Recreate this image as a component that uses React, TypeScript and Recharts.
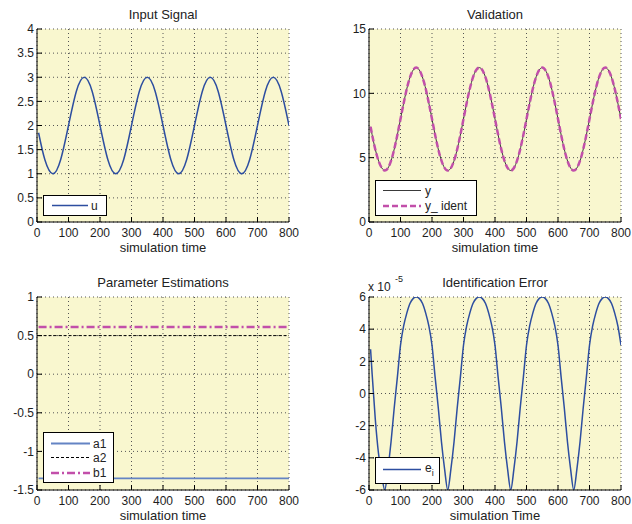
import React from 'react';
import { LineChart, Line, XAxis, YAxis, CartesianGrid } from 'recharts';

const FONT = "'Liberation Sans', Arial, Helvetica, sans-serif";
const BG = '#F9F7CF';
const BLUE = '#2D4EA0';
const LIGHT_BLUE = '#6484C4';
const MAGENTA = '#C24FAA';
const DARK = '#3a3a3a';

const X_TICKS = [0, 100, 200, 300, 400, 500, 600, 700, 800];
const U_TICKS = [0, 0.5, 1, 1.5, 2, 2.5, 3, 3.5, 4];
const VAL_TICKS = [0, 5, 10, 15];
const PARAM_TICKS = [-1.5, -1, -0.5, 0, 0.5, 1];
const ERR_TICKS = [-6, -4, -2, 0, 2, 4, 6];

const U_TIME = [5, 25, 50, 75, 100, 125, 150, 175, 200, 225, 250, 275, 300, 325, 350, 375, 400, 425, 450, 475, 500, 525, 550, 575, 600, 625, 650, 675, 700, 725, 750, 775, 800];
const U_VALUES = [1.85, 1.29, 1.0, 1.29, 2.0, 2.71, 3.0, 2.71, 2.0, 1.29, 1.0, 1.29, 2.0, 2.71, 3.0, 2.71, 2.0, 1.29, 1.0, 1.29, 2.0, 2.71, 3.0, 2.71, 2.0, 1.29, 1.0, 1.29, 2.0, 2.71, 3.0, 2.71, 2.0];
const Y_VALUES = [7.4, 5.17, 4.0, 5.17, 8.0, 10.83, 12.0, 10.83, 8.0, 5.17, 4.0, 5.17, 8.0, 10.83, 12.0, 10.83, 8.0, 5.17, 4.0, 5.17, 8.0, 10.83, 12.0, 10.83, 8.0, 5.17, 4.0, 5.17, 8.0, 10.83, 12.0, 10.83, 8.0];
const Y_IDENT_VALUES = [7.4, 5.17, 4.0, 5.17, 8.0, 10.83, 12.0, 10.83, 8.0, 5.17, 4.0, 5.17, 8.0, 10.83, 12.0, 10.83, 8.0, 5.17, 4.0, 5.17, 8.0, 10.83, 12.0, 10.83, 8.0, 5.17, 4.0, 5.17, 8.0, 10.83, 12.0, 10.83, 8.0];

const PARAM_TIME = [5, 800];
const A1_VALUES = [-1.35, -1.35];
const A2_VALUES = [0.5, 0.5];
const B1_VALUES = [0.61, 0.61];

const E_TIME = [5, 10, 20, 30, 40, 50, 60, 70, 80, 90, 100, 110, 120, 130, 140, 150, 160, 170, 180, 190, 200, 210, 220, 230, 240, 250, 260, 270, 280, 290, 300, 310, 320, 330, 340, 350, 360, 370, 380, 390, 400, 410, 420, 430, 440, 450, 460, 470, 480, 490, 500, 510, 520, 530, 540, 550, 560, 570, 580, 590, 600, 610, 620, 630, 640, 650, 660, 670, 680, 690, 700, 710, 720, 730, 740, 750, 760, 770, 780, 790, 800];
// identification error, in units of 1e-5
const E_VALUES = [2.75, 1.2, -1.6, -3.7, -5.0, -6.0, -4.7, -3.0, -0.9, 1.0, 3.0, 4.2, 5.0, 5.6, 5.9, 6.0, 5.9, 5.6, 5.0, 4.2, 3.0, 1.0, -0.9, -3.0, -4.7, -6.0, -4.7, -3.0, -0.9, 1.0, 3.0, 4.2, 5.0, 5.6, 5.9, 6.0, 5.9, 5.6, 5.0, 4.2, 3.0, 1.0, -0.9, -3.0, -4.7, -6.0, -4.7, -3.0, -0.9, 1.0, 3.0, 4.2, 5.0, 5.6, 5.9, 6.0, 5.9, 5.6, 5.0, 4.2, 3.0, 1.0, -0.9, -3.0, -4.7, -6.0, -4.7, -3.0, -0.9, 1.0, 3.0, 4.2, 5.0, 5.6, 5.9, 6.0, 5.9, 5.6, 5.0, 4.2, 3.0];

const inputData = U_TIME.map((t, i) => ({ t, u: U_VALUES[i] }));
const validationData = U_TIME.map((t, i) => ({ t, y: Y_VALUES[i], yi: Y_IDENT_VALUES[i] }));
const paramData = PARAM_TIME.map((t, i) => ({ t, a1: A1_VALUES[i], a2: A2_VALUES[i], b1: B1_VALUES[i] }));
const errorData = E_TIME.map((t, i) => ({ t, e: E_VALUES[i] }));

const tickStyle = { fill: '#1e1e1e', fontSize: 12, fontFamily: FONT };

type PanelProps = {
  ox: number;
  oy: number;
  yw: number;
  mr: number;
  mt: number;
  mb: number;
  data: any[];
  yDomain: [number, number];
  yTicks: number[];
  children: React.ReactNode;
};

function Panel({ ox, oy, yw, mr, mt, mb, data, yDomain, yTicks, children }: PanelProps) {
  return (
    <div style={{ position: 'absolute', left: ox, top: oy, width: 316, height: 262 }}>
      <LineChart width={316} height={262} data={data} margin={{ top: mt, right: mr, bottom: mb, left: 0 }}>
        <CartesianGrid stroke="#555" strokeDasharray="1 3" fill={BG} fillOpacity={1} />
        <XAxis
          dataKey="t"
          type="number"
          domain={[0, 800]}
          ticks={X_TICKS}
          interval={0}
          height={20}
          tickSize={-5}
          tickMargin={11}
          stroke="#000"
          tick={tickStyle}
          allowDataOverflow
        />
        <XAxis
          xAxisId="top"
          orientation="top"
          dataKey="t"
          type="number"
          domain={[0, 800]}
          ticks={X_TICKS}
          interval={0}
          height={0}
          tickSize={-5}
          tick={false}
          stroke="#000"
          allowDataOverflow
        />
        <YAxis
          type="number"
          domain={yDomain}
          ticks={yTicks}
          interval={0}
          width={yw}
          tickSize={-5}
          tickMargin={8}
          stroke="#000"
          tick={tickStyle}
          allowDataOverflow
        />
        <YAxis
          yAxisId="right"
          orientation="right"
          type="number"
          domain={yDomain}
          ticks={yTicks}
          interval={0}
          width={0}
          tickSize={-5}
          tick={false}
          stroke="#000"
          allowDataOverflow
        />
        {children}
      </LineChart>
    </div>
  );
}

const textStyle: React.CSSProperties = { fontFamily: FONT };

export default function App() {
  return (
    <div style={{ position: 'absolute', left: 0, top: 0, width: 632, height: 524, background: '#fff' }}>
      <Panel ox={0} oy={0} yw={37} mr={27} mt={29} mb={20} data={inputData} yDomain={[0, 4]} yTicks={U_TICKS}>
        <Line type="natural" dataKey="u" stroke={BLUE} strokeWidth={1.5} dot={false} isAnimationActive={false} />
      </Panel>
      <Panel ox={316} oy={0} yw={53} mr={11} mt={29} mb={20} data={validationData} yDomain={[0, 15]} yTicks={VAL_TICKS}>
        <Line type="natural" dataKey="y" stroke={DARK} strokeWidth={1} dot={false} isAnimationActive={false} />
        <Line type="natural" dataKey="yi" stroke={MAGENTA} strokeWidth={2.5} strokeDasharray="6 3" dot={false} isAnimationActive={false} />
      </Panel>
      <Panel ox={0} oy={262} yw={37} mr={27} mt={35} mb={14} data={paramData} yDomain={[-1.5, 1]} yTicks={PARAM_TICKS}>
        <Line type="linear" dataKey="a1" stroke={LIGHT_BLUE} strokeWidth={1.8} dot={false} isAnimationActive={false} />
        <Line type="linear" dataKey="a2" stroke="#000" strokeWidth={1} strokeDasharray="3 2" dot={false} isAnimationActive={false} />
        <Line type="linear" dataKey="b1" stroke={MAGENTA} strokeWidth={2.5} strokeDasharray="8 3 2 3" dot={false} isAnimationActive={false} />
      </Panel>
      <Panel ox={316} oy={262} yw={53} mr={11} mt={35} mb={14} data={errorData} yDomain={[-6, 6]} yTicks={ERR_TICKS}>
        <Line type="monotone" dataKey="e" stroke={BLUE} strokeWidth={1.5} dot={false} isAnimationActive={false} />
      </Panel>

      <svg width={632} height={524} style={{ position: 'absolute', left: 0, top: 0, pointerEvents: 'none' }}>
        <g style={textStyle} fill="#222" fontSize={13} textAnchor="middle">
          <text x={163} y={19}>Input Signal</text>
          <text x={495} y={19}>Validation</text>
          <text x={163} y={287}>Parameter Estimations</text>
          <text x={495} y={287}>Identification Error</text>
          <text x={163} y={252}>simulation time</text>
          <text x={495} y={252}>simulation time</text>
          <text x={163} y={520}>simulation time</text>
          <text x={495} y={520}>simulation Time</text>
        </g>
        <g style={textStyle} fill="#222">
          <text x={368} y={291} fontSize={12}>x 10</text>
          <text x={395} y={282} fontSize={9}>-5</text>
        </g>

        {/* Legend: Input Signal */}
        <rect x={43.5} y={195.5} width={63} height={20} fill="#fff" stroke="#000" strokeWidth={1} />
        <line x1={52} y1={205.5} x2={88} y2={205.5} stroke={BLUE} strokeWidth={1.5} />
        <text x={91} y={210} fontSize={12} fill="#222" style={textStyle}>u</text>

        {/* Legend: Validation */}
        <rect x={375.5} y={180.5} width={101} height={35} fill="#fff" stroke="#000" strokeWidth={1} />
        <line x1={383} y1={190.5} x2={421} y2={190.5} stroke={DARK} strokeWidth={1} />
        <text x={425} y={195} fontSize={12} fill="#222" style={textStyle}>y</text>
        <line x1={383} y1={206} x2={421} y2={206} stroke={MAGENTA} strokeWidth={2.5} strokeDasharray="6 3" />
        <text x={425} y={210} fontSize={12} fill="#222" style={textStyle}>y_ ident</text>

        {/* Legend: Parameter Estimations */}
        <rect x={43.5} y={432.5} width={70} height={50} fill="#fff" stroke="#000" strokeWidth={1} />
        <line x1={51} y1={443.5} x2={90} y2={443.5} stroke={LIGHT_BLUE} strokeWidth={1.8} />
        <text x={93} y={448} fontSize={12} fill="#222" style={textStyle}>a1</text>
        <line x1={51} y1={457.5} x2={90} y2={457.5} stroke="#000" strokeWidth={1} strokeDasharray="3 2" />
        <text x={93} y={462} fontSize={12} fill="#222" style={textStyle}>a2</text>
        <line x1={51} y1={473} x2={90} y2={473} stroke={MAGENTA} strokeWidth={2.5} strokeDasharray="8 3 2 3" />
        <text x={93} y={477} fontSize={12} fill="#222" style={textStyle}>b1</text>

        {/* Legend: Identification Error */}
        <rect x={375.5} y={457.5} width={64} height={26} fill="#fff" stroke="#000" strokeWidth={1} />
        <line x1={383} y1={469.5} x2={421} y2={469.5} stroke={BLUE} strokeWidth={1.5} />
        <text x={425} y={472} fontSize={12} fill="#222" style={textStyle}>
          e<tspan dy={4} fontSize={9}>i</tspan>
        </text>
      </svg>
    </div>
  );
}
